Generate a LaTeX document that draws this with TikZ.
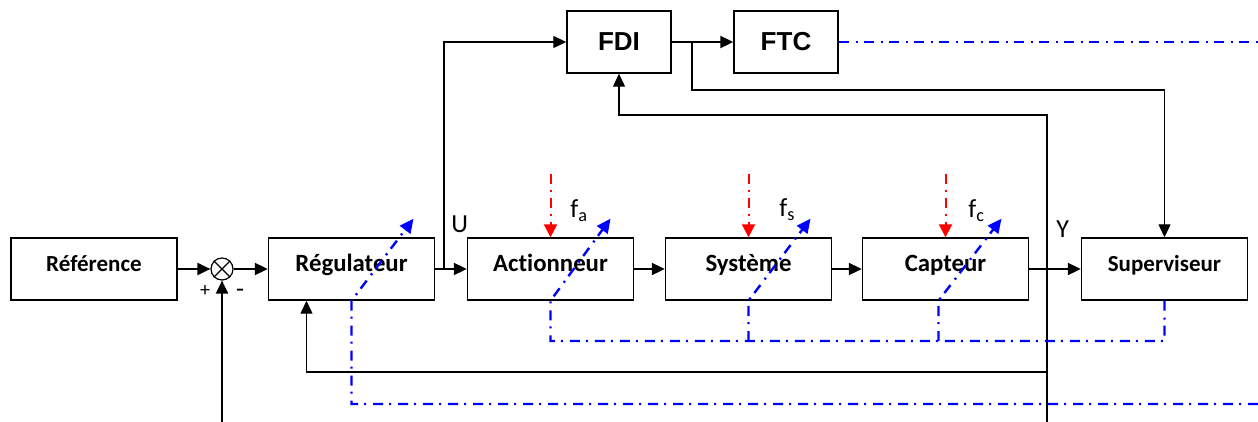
\documentclass[tikz,border=0pt]{standalone}
\usepackage{fontspec}
\setmainfont{Carlito}[Ligatures={NoCommon,NoContextual}]
\newfontfamily\arialfont{Liberation Sans}
\usetikzlibrary{arrows.meta,calc}
\definecolor{FaultBlue}{RGB}{0,0,255}
\definecolor{DistRed}{RGB}{255,0,0}
\tikzset{
  block/.style={draw,line width=0.7pt,minimum width=83pt,minimum height=31pt,
    inner sep=0pt,text height=10pt,text depth=8pt,
    font=\fontsize{12.4}{14}\selectfont\bfseries},
  smallblock/.style={block,font=\fontsize{11.5}{13}\selectfont\bfseries},
  diagblock/.style={draw,line width=0.7pt,minimum width=52pt,minimum height=31pt,
    inner sep=0pt,font=\arialfont\fontsize{13}{15}\selectfont\bfseries},
  sumnode/.style={draw,circle,line width=0.6pt,minimum size=11pt,inner sep=0pt},
  arrow/.style={-{Triangle[length=6.5pt,width=6pt]},line width=1pt},
  thinarrow/.style={-{Triangle[length=6.5pt,width=6pt]},line width=0.6pt},
  fault/.style={FaultBlue,line width=1.2pt,
    dash pattern=on 5pt off 3.5pt on 1pt off 3pt},
  faultarrow/.style={fault,-{Triangle[length=7pt,width=6.5pt]}},
  dist/.style={DistRed,line width=1pt,
    dash pattern=on 5pt off 3pt on 1pt off 3pt,
    -{Triangle[length=6.5pt,width=6.5pt]}},
  lab/.style={font=\fontsize{13}{15}\selectfont,inner sep=0pt}
}

\begin{document}
\begin{tikzpicture}[x=0.5pt,y=-0.5pt]
\useasboundingbox (0,0) rectangle (1258,422);

% blocks of the loop
\node[smallblock] (ref) at (94,269) {Référence};
\node[sumnode] (sum) at (222,269) {};
\draw[line width=0.6pt] (sum.north west) -- (sum.south east)
  (sum.north east) -- (sum.south west);
\node[block] (reg) at (351.5,269) {Régulateur};
\node[block] (act) at (550.5,269) {Actionneur};
\node[block] (sys) at (748.5,269) {Système};
\node[block] (cap) at (945.5,269) {Capteur};
\node[smallblock] (sup) at (1164.5,269) {Superviseur};
\node[diagblock] (fdi) at (619,42) {FDI};
\node[diagblock] (ftc) at (786,42) {FTC};

% free ends and branch points
\coordinate (sumin) at (222,422);
\coordinate (ubr) at (444,269);
\coordinate (fbr) at (692,42);
\coordinate (fbus) at (692,90);
\coordinate (ybot) at (1047,422);
\coordinate (ytop) at (1047,115);
\coordinate (ytap) at (1047,372);
\coordinate (bus) at (0,341);
\coordinate (faultout) at (1258,404);
\coordinate (ftcout) at (1258,42);

% main chain
\draw[arrow] (ref) -- (sum);
\draw[arrow] (sum) -- (reg);
\draw[arrow] (sumin) -- (sum.south);
\draw[arrow] (reg) -- (act);
\draw[arrow] (act) -- (sys);
\draw[arrow] (sys) -- (cap);
\draw[arrow] (cap) -- (sup);
\draw[arrow] (fdi) -- (ftc);

% diagnosis links
\draw[thinarrow] (ubr) |- (fdi.west);
\draw[thinarrow] (fbr) -- (fbus) -| (sup.north);
\draw[thinarrow] (ybot) -- (ytop) -| (fdi.south);
\draw[thinarrow] (ytap) -| ([xshift=-22.5pt]reg.south);

% faults
\draw[faultarrow] (faultout) -| (reg.south) -- ++(62,-82);
\draw[faultarrow] (sup.south) |- (act.south |- bus) -- (act.south) -- ++(60,-82);
\draw[faultarrow] (sys.south |- bus) -- (sys.south) -- ++(62,-82);
\draw[faultarrow] ([xshift=-3.5pt]cap.south |- bus) -- ([xshift=-3.5pt]cap.south) -- ++(63,-82);
\draw[fault] (ftc.east) -- (ftcout);

% disturbances
\draw[dist] ([yshift=31.5pt]act.north) -- (act.north);
\draw[dist] ([yshift=31.5pt]sys.north) -- (sys.north);
\draw[dist] ([yshift=31.5pt]cap.north) -- (cap.north);

% labels
\node[lab,font=\fontsize{10}{12}\selectfont] (plus) at (205,291) {+};
\node[lab] (minus) at (240,293) {-};
\node[lab,anchor=base west] (ulab) at (451,233) {U};
\node[lab,anchor=base west] (ylab) at (1056,238) {Y};
\node[lab,anchor=base west] (fa) at (570,218) {f\textsubscript{a}};
\node[lab,anchor=base west] (fs) at (779,217) {f\textsubscript{s}};
\node[lab,anchor=base west] (fc) at (968,218) {f\textsubscript{c}};

\end{tikzpicture}
\end{document}
